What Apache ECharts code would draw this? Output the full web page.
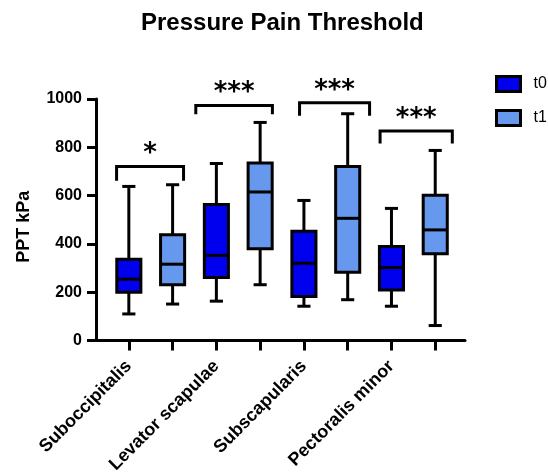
<!DOCTYPE html>
<html>
<head>
<meta charset="utf-8">
<script src="https://cdn.jsdelivr.net/npm/echarts@6/dist/echarts.min.js"></script>
<style>html,body{margin:0;padding:0;background:#fff}#c{width:548px;height:476px}</style>
</head>
<body>
<div id="c"></div>
<script>
const categories = ['Suboccipitalis', 'Levator scapulae', 'Subscapularis', 'Pectoralis minor'];
const seriesNames = ['t0', 't1'];
const t0Min = [110, 163, 142, 142];
const t0Q1 = [200, 261, 182, 209];
const t0Median = [254, 352, 320, 302];
const t0Q3 = [336, 563, 452, 389];
const t0Max = [638, 733, 580, 547];
const t1Min = [151, 231, 169, 62];
const t1Q1 = [231, 380, 283, 359];
const t1Median = [316, 615, 506, 458];
const t1Q3 = [438, 735, 721, 601];
const t1Max = [645, 903, 939, 787];
const yTicks = [0, 200, 400, 600, 800, 1000];
const bracketStart = [-0.28, 1.53, 3.90, 5.74];
const bracketEnd = [1.25, 3.28, 5.50, 7.39];
const bracketTop = [721, 973, 984, 868];
const bracketFoot = [662, 937, 931, 816];
const stars = ['*', '***', '***', '***'];

const FONT = "'Liberation Sans', Arial, sans-serif";
const C0 = '#0000ee';
const C1 = '#6699ee';

function boxData(mins, q1s, meds, q3s, maxs, offset) {
  return categories.map((c, i) => [2 * i + offset, mins[i], q1s[i], meds[i], q3s[i], maxs[i]]);
}

function renderBox(params, api) {
  const x = api.value(0);
  const pMin = api.coord([x, api.value(1)]);
  const pQ1 = api.coord([x, api.value(2)]);
  const pMed = api.coord([x, api.value(3)]);
  const pQ3 = api.coord([x, api.value(4)]);
  const pMax = api.coord([x, api.value(5)]);
  const unit = api.size([1, 0])[0];
  const hw = unit * 0.275;
  const cw = unit * 0.15;
  const cx = pMed[0];
  const fill = api.visual('color');
  const st = { stroke: '#000', lineWidth: 3, lineCap: 'butt' };
  return {
    type: 'group',
    children: [
      { type: 'line', shape: { x1: cx, y1: pMax[1], x2: cx, y2: pQ3[1] }, style: st },
      { type: 'line', shape: { x1: cx, y1: pQ1[1], x2: cx, y2: pMin[1] }, style: st },
      { type: 'line', shape: { x1: cx - cw, y1: pMax[1], x2: cx + cw, y2: pMax[1] }, style: st },
      { type: 'line', shape: { x1: cx - cw, y1: pMin[1], x2: cx + cw, y2: pMin[1] }, style: st },
      { type: 'rect', shape: { x: cx - hw, y: pQ3[1], width: 2 * hw, height: pQ1[1] - pQ3[1] },
        style: { fill: fill, stroke: '#000', lineWidth: 3 } },
      { type: 'line', shape: { x1: cx - hw, y1: pMed[1], x2: cx + hw, y2: pMed[1] }, style: st }
    ]
  };
}

const bracketData = categories.map((c, i) => [bracketStart[i], bracketEnd[i], bracketTop[i], bracketFoot[i], i]);

function renderBracket(params, api) {
  const x0 = api.value(0), x1 = api.value(1), top = api.value(2), foot = api.value(3);
  const a = api.coord([x0, foot]);
  const b = api.coord([x0, top]);
  const c = api.coord([x1, top]);
  const d = api.coord([x1, foot]);
  const idx = api.value(4);
  return {
    type: 'group',
    children: [
      { type: 'polyline', shape: { points: [a, b, c, d] },
        style: { stroke: '#000', lineWidth: 3, fill: null } },
      { type: 'text', x: (b[0] + c[0]) / 2, y: b[1] + 1,
        style: { text: stars[idx], fill: '#000', font: "bold 26px 'DejaVu Sans', sans-serif",
          textAlign: 'center', textVerticalAlign: 'bottom' } }
    ]
  };
}

const chart = echarts.init(document.getElementById('c'), null, { renderer: 'canvas' });
chart.setOption({
  animation: false,
  backgroundColor: '#fff',
  title: {
    text: 'Pressure Pain Threshold',
    left: 136, top: 6,
    textStyle: { fontFamily: FONT, fontWeight: 'bold', fontSize: 24, color: '#000' }
  },
  legend: {
    orient: 'vertical', left: 495, top: 75, padding: 0,
    itemWidth: 24, itemHeight: 15, itemGap: 16,
    textStyle: { fontFamily: FONT, fontSize: 16, color: '#000', padding: [0, 0, 0, 8] },
    data: [
      { name: 't0', icon: 'rect', itemStyle: { color: C0, borderColor: '#000', borderWidth: 3 } },
      { name: 't1', icon: 'rect', itemStyle: { color: C1, borderColor: '#000', borderWidth: 3 } }
    ]
  },
  grid: { left: 96, right: 83, top: 99, bottom: 132, containLabel: false },
  xAxis: {
    type: 'value', min: -0.75, max: 7.68,
    splitLine: { show: false },
    axisLine: { show: true, onZero: false, lineStyle: { color: '#000', width: 3 } },
    axisTick: { show: true, length: 10, lineStyle: { color: '#000', width: 3 },
      customValues: [0, 1, 2, 3, 4, 5, 6, 7] },
    axisLabel: {
      customValues: [0, 2, 4, 6],
      formatter: v => categories[Math.round(v / 2)],
      rotate: 45, margin: 23,
      fontFamily: FONT, fontWeight: 'bold', fontSize: 18, color: '#000'
    }
  },
  yAxis: {
    type: 'value', min: 0, max: 1000, interval: 200,
    name: 'PPT kPa', nameLocation: 'middle', nameGap: 63, nameRotate: 90,
    nameTextStyle: { fontFamily: FONT, fontWeight: 'bold', fontSize: 18, color: '#000', padding: [0, 14, 0, 0] },
    splitLine: { show: false },
    axisLine: { show: true, onZero: false, lineStyle: { color: '#000', width: 3 } },
    axisTick: { show: true, length: 9, lineStyle: { color: '#000', width: 3 } },
    axisLabel: {
      customValues: yTicks, margin: 14,
      formatter: v => String(v),
      fontFamily: FONT, fontWeight: 'bold', fontSize: 16, color: '#000'
    }
  },
  series: [
    { name: 't0', type: 'custom', renderItem: renderBox, itemStyle: { color: C0, borderColor: '#000', borderWidth: 3 },
      encode: { x: 0, y: [1, 2, 3, 4, 5] }, data: boxData(t0Min, t0Q1, t0Median, t0Q3, t0Max, 0), clip: false, z: 3 },
    { name: 't1', type: 'custom', renderItem: renderBox, itemStyle: { color: C1, borderColor: '#000', borderWidth: 3 },
      encode: { x: 0, y: [1, 2, 3, 4, 5] }, data: boxData(t1Min, t1Q1, t1Median, t1Q3, t1Max, 1), clip: false, z: 3 },
    { name: 'significance', type: 'custom', renderItem: renderBracket,
      encode: { x: [0, 1], y: [2, 3] }, data: bracketData, clip: false, z: 4, silent: true }
  ]
});
</script>
</body>
</html>
